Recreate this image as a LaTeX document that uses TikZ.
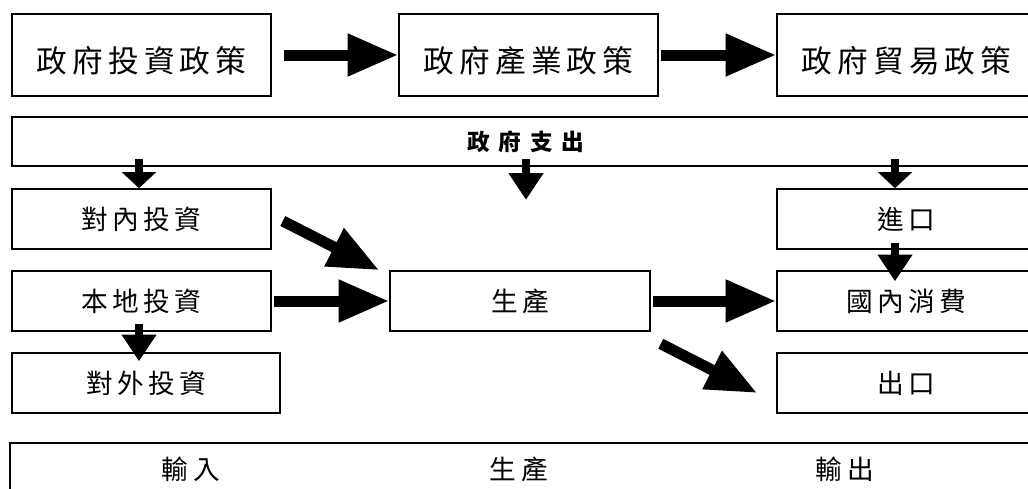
\documentclass[tikz,border=0pt]{standalone}
\usepackage{fontspec}
\newfontfamily\cjkbig[LetterSpace=17]{Noto Sans CJK TC}
\newfontfamily\cjkmid[LetterSpace=16]{Noto Sans CJK TC}
\newfontfamily\cjkbar[LetterSpace=39]{Noto Sans CJK TC}
\newfontfamily\cjkstage[LetterSpace=22]{Noto Sans CJK TC}
\usetikzlibrary{arrows.meta, calc, positioning}
\tikzset{
    policyBox/.style={rectangle, draw, fill=white, line width=1.2pt, minimum width=194.25pt, minimum height=61.5pt, text height=26pt, text depth=0pt, font=\fontsize{23pt}{26pt}\cjkbig},
    flowBox/.style={rectangle, draw, fill=white, line width=1.2pt, minimum width=194.25pt, minimum height=45pt, font=\fontsize{20pt}{22pt}\cjkmid},
    bandBox/.style={rectangle, draw, fill=white, line width=1.2pt, inner sep=0pt},
    bandText/.style={font=\fontsize{20pt}{22pt}\cjkstage},
    bigArrow/.style={-{Triangle[length=38pt, width=30pt]}, line width=8.25pt},
    smallArrow/.style={-{Triangle[length=20pt, width=25pt]}, line width=6pt},
    flatArrow/.style={-{Triangle[length=12pt, width=25pt]}, line width=6pt},
}

\begin{document}
\begin{tikzpicture}[x=0.75pt, y=-0.75pt]
        \useasboundingbox (0,0) rectangle (1028,489);
        \clip (0,0) rectangle (1028,489);

        % policies
        \node[policyBox] (invPolicy) at (141.5,55) {政府投資政策};
        \node[policyBox] (indPolicy) at (528.5,55) {政府產業政策};
        \node[policyBox] (tradePolicy) at (906.5,55) {政府貿易政策};

        \node[bandBox, minimum width=771pt, minimum height=36.75pt, font=\fontsize{17pt}{19pt}\cjkbar\bfseries] (spend) at (526,141.5) {政府支出};

        % flows
        \node[flowBox] (inward) at (141.5,219) {對內投資};
        \node[flowBox] (local) at (141.5,301) {本地投資};
        \node[flowBox, minimum width=201pt] (outward) at (146,383) {對外投資};
        \node[flowBox, minimum width=195pt] (prod) at (520,301) {生產};
        \node[flowBox] (import) at (906.5,219) {進口};
        \node[flowBox] (domestic) at (906.5,301) {國內消費};
        \node[flowBox] (export) at (906.5,383) {出口};

        % stages
        \node[bandBox, minimum width=772.5pt, minimum height=42.75pt] (stages) at (525,471.5) {};
        \node[bandText] (inStage) at (191,469) {輸入};
        \node[bandText] (prodStage) at (519,469) {生產};
        \node[bandText] (outStage) at (845,469) {輸出};

        \draw[bigArrow, shorten <=9pt] (invPolicy) -- (indPolicy);
        \draw[bigArrow, shorten <=1.5pt] (indPolicy) -- (tradePolicy);

        \coordinate (prodTip) at ($(spend.south)+(0,33)$);
        \draw[flatArrow] ($(spend.south -| inward.north)+(-2.5,-8)$) -- ($(inward.north)+(-2.5,0)$);
        \draw[smallArrow] ($(spend.south)+(0,-8)$) -- (prodTip);
        \draw[flatArrow] ($(spend.south -| import.north)+(-11.5,-8)$) -- ($(import.north)+(-11.5,0)$);

        \draw[bigArrow] ($(inward.east)+(11,2)$) -- ($(prod.north west)+(-10,0)$);
        \draw[bigArrow, shorten <=1.5pt] (local) -- (prod);
        \draw[smallArrow] ($(local.south)+(-2.5,-8)$) -- ($(local.south |- outward.north)+(-2.5,9)$);
        \draw[smallArrow] ($(import.south)+(-11.5,-7)$) -- ($(import.south |- domestic.north)+(-11.5,11)$);
        \draw[bigArrow, shorten <=1.5pt] (prod) -- (domestic);
        \draw[bigArrow] ($(prod.south east)+(10,12)$) -- ($(export.west)+(-19,10)$);
    \end{tikzpicture}
\end{document}
